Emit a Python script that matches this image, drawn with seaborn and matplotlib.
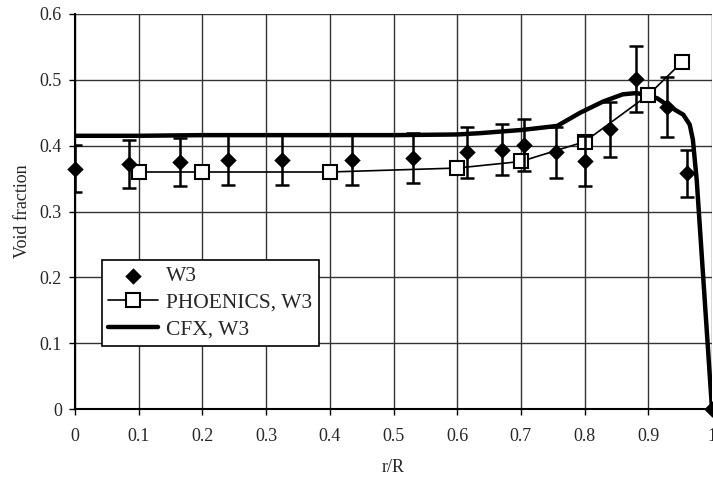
import matplotlib
matplotlib.use("Agg")
import matplotlib.pyplot as plt
import seaborn as sns
import pandas as pd

# W3 experimental data
w3_x = [0, 0.085, 0.165, 0.24, 0.325, 0.435, 0.53, 0.615, 0.67, 0.705, 0.755, 0.80, 0.84, 0.88, 0.93, 0.96, 1.0]
w3_y = [0.365, 0.372, 0.375, 0.378, 0.378, 0.378, 0.382, 0.39, 0.394, 0.401, 0.39, 0.376, 0.425, 0.501, 0.459, 0.358, 0.0]
w3_err = [0.036, 0.037, 0.037, 0.038, 0.038, 0.038, 0.038, 0.039, 0.039, 0.04, 0.039, 0.038, 0.042, 0.05, 0.046, 0.036, 0.0]

# PHOENICS, W3
ph_x = [0.1, 0.2, 0.4, 0.6, 0.7, 0.8, 0.9, 0.953]
ph_y = [0.36, 0.36, 0.36, 0.366, 0.376, 0.406, 0.477, 0.527]

# CFX, W3
cfx_x = [0, 0.1, 0.2, 0.3, 0.4, 0.5, 0.6, 0.636, 0.703, 0.757, 0.793, 0.829, 0.86, 0.882,
         0.914, 0.934, 0.955, 0.965, 0.97, 0.973, 0.976, 1.0]
cfx_y = [0.415, 0.415, 0.416, 0.416, 0.416, 0.416, 0.417, 0.419, 0.424, 0.43, 0.45, 0.467, 0.478, 0.48,
         0.472, 0.459, 0.447, 0.432, 0.409, 0.378, 0.348, 0.0]

x_ticks = [0, 0.1, 0.2, 0.3, 0.4, 0.5, 0.6, 0.7, 0.8, 0.9, 1.0]
x_tick_labels = ["0", "0.1", "0.2", "0.3", "0.4", "0.5", "0.6", "0.7", "0.8", "0.9", "1"]
y_ticks = [0, 0.1, 0.2, 0.3, 0.4, 0.5, 0.6]
y_tick_labels = ["0", "0.1", "0.2", "0.3", "0.4", "0.5", "0.6"]

sns.set_theme(style="white")
plt.rcParams['font.family'] = ['Liberation Serif', 'DejaVu Serif']

fig = plt.figure(figsize=(7.13, 4.78), dpi=100)
ax = fig.add_axes([75/713, 69/478, 637/713, 395/478])

w3 = pd.DataFrame({"x": w3_x, "y": w3_y})
ph = pd.DataFrame({"x": ph_x, "y": ph_y})
cfx = pd.DataFrame({"x": cfx_x, "y": cfx_y})

sns.lineplot(data=cfx, x="x", y="y", ax=ax, color="black", linewidth=3.2,
             label="CFX, W3", zorder=3, sort=False)
sns.lineplot(data=ph, x="x", y="y", ax=ax, color="black", linewidth=1.2,
             marker="s", markersize=10, markerfacecolor="white",
             markeredgecolor="black", markeredgewidth=1.5,
             label="PHOENICS, W3", zorder=4)
ax.errorbar(w3_x, w3_y, yerr=w3_err, fmt="none", ecolor="black",
            elinewidth=1.8, capsize=5, capthick=1.8, zorder=5, label="_nolegend_")
sns.scatterplot(data=w3, x="x", y="y", ax=ax, color="black", marker="D",
                s=70, edgecolor="black", linewidth=0, label="W3", zorder=6,
                clip_on=False)

ax.set_xlim(0, 1)
ax.set_ylim(0, 0.6)
ax.set_xticks(x_ticks)
ax.set_xticklabels(x_tick_labels)
ax.set_yticks(y_ticks)
ax.set_yticklabels(y_tick_labels)
ax.grid(True, color="#333333", linewidth=1.0)
ax.set_axisbelow(True)
for side in ["top", "right"]:
    ax.spines[side].set_visible(False)
for side in ["left", "bottom"]:
    ax.spines[side].set_color("black")
    ax.spines[side].set_linewidth(1.5)
ax.tick_params(axis="both", which="both", direction="out", length=4.5, width=1,
               color="black", labelsize=13, bottom=True, left=True)
ax.tick_params(axis="y", pad=5)
ax.tick_params(axis="x", pad=9)

ax.set_xlabel("r/R", fontsize=13, labelpad=10)
ax.set_ylabel("Void fraction", fontsize=13, labelpad=6)

handles, labels = ax.get_legend_handles_labels()
order = [labels.index("W3"), labels.index("PHOENICS, W3"), labels.index("CFX, W3")]
leg = ax.legend([handles[i] for i in order], [labels[i] for i in order],
                loc="lower left", bbox_to_anchor=(0.042, 0.16), fontsize=15.5,
                frameon=True, fancybox=False, edgecolor="black", framealpha=1,
                borderpad=0.3, labelspacing=0.3, handlelength=2.3,
                handletextpad=0.4, borderaxespad=0)
leg.get_frame().set_linewidth(1.2)

fig.savefig("out.png", dpi=100)
